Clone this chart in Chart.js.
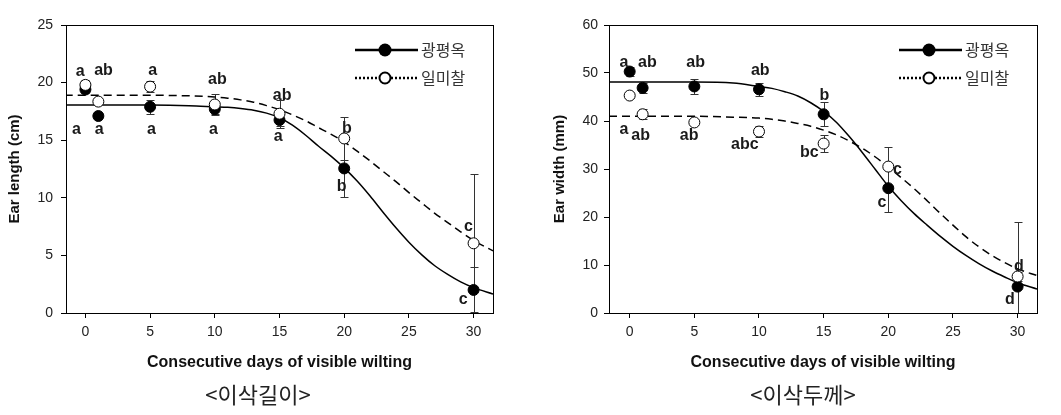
<!DOCTYPE html>
<html>
<head>
<meta charset="utf-8">
<script src="https://cdn.jsdelivr.net/npm/chart.js@4.4.0/dist/chart.umd.min.js"></script>
<style>
  body { margin: 0; background: #fff; width: 1061px; height: 415px; position: relative; overflow: hidden; }
  .panel { position: absolute; top: 0; }
  .caption { position: absolute; top: 379px; font-family: "Noto Sans CJK KR", sans-serif; font-size: 22px; line-height: 28px; color: #222; transform: translateX(-50%); white-space: nowrap; }
</style>
</head>
<body>
<div class="panel" style="left:0"><canvas id="lengthChart" width="530" height="415"></canvas></div>
<div class="panel" style="left:530px"><canvas id="widthChart" width="531" height="415"></canvas></div>
<div class="caption" style="left:258px">&lt;이삭길이&gt;</div>
<div class="caption" style="left:803px">&lt;이삭두께&gt;</div>

<script>
// measured days and the two varieties
const days = [0, 1, 5, 10, 15, 20, 30];
const seriesNames = ["광평옥", "일미찰"];
const xTicks = [0, 5, 10, 15, 20, 25, 30];

// ear length (cm)
const lengthKPO = [19.4, 17.1, 17.9, 17.7, 16.75, 12.55, 2.0];
const lengthKPOErr = [0.3, 0.3, 0.6, 0.45, 0.5, 2.45, 2.0];
const lengthIMC = [19.8, 18.35, 19.65, 18.1, 17.3, 15.15, 6.05];
const lengthIMCErr = [0.4, 0.2, 0.5, 0.95, 1.2, 1.85, 6.0];
const lengthTicks = [0, 5, 10, 15, 20, 25];

// ear width (mm)
const widthKPO = [50.3, 46.9, 47.2, 46.6, 41.4, 26.0, 5.5];
const widthKPOErr = [0.9, 1.1, 1.65, 1.35, 2.5, 4.9, 13.5];
const widthIMC = [45.3, 41.4, 39.7, 37.8, 35.3, 30.5, 7.6];
const widthIMCErr = [0.5, 1.0, 0.5, 1.2, 1.7, 4.0, 1.0];
const widthTicks = [0, 10, 20, 30, 40, 50, 60];

// fitted curves
const curveDays = [-1.6, 0, 5, 8, 10, 11, 12, 13, 14, 15, 16, 17, 18, 19, 20, 21, 22, 23, 24, 25, 26, 27, 28, 29, 30, 31.5];
const lengthKPOFit = [18.05, 18.05, 18.05, 18.0, 17.9, 17.85, 17.75, 17.6, 17.35, 16.95, 16.3, 15.45, 14.5, 13.6, 12.6, 11.45, 10.15, 8.75, 7.4, 6.15, 5.05, 4.1, 3.35, 2.7, 2.2, 1.65];
const lengthIMCFit = [18.9, 18.9, 18.9, 18.85, 18.75, 18.65, 18.5, 18.3, 18.0, 17.65, 17.2, 16.7, 16.1, 15.5, 14.85, 14.05, 13.2, 12.3, 11.4, 10.45, 9.55, 8.65, 7.85, 7.05, 6.3, 5.4];
const widthKPOFit = [48.1, 48.1, 48.1, 47.9, 47.2, 46.8, 46.1, 45.2, 43.8, 42.0, 39.7, 36.7, 33.4, 29.9, 26.4, 23.4, 20.7, 18.3, 16.0, 13.9, 12.0, 10.3, 8.8, 7.5, 6.3, 5.0];
const widthIMCFit = [41.0, 41.0, 41.0, 40.8, 40.6, 40.35, 40.0, 39.5, 38.9, 38.1, 37.1, 35.8, 34.3, 32.5, 30.4, 28.2, 25.9, 23.4, 20.8, 18.3, 15.9, 13.8, 12.0, 10.5, 9.2, 7.8];

// significance letters
const lengthLettersKPO = ["a", "a", "a", "a", "a", "b", "c"];
const lengthLettersIMC = ["a", "ab", "a", "ab", "ab", "b", "c"];
const widthLettersKPO = ["a", "ab", "ab", "ab", "b", "c", "d"];
const widthLettersIMC = ["a", "ab", "ab", "abc", "bc", "c", "d"];

// where each letter sits, in data units
const lengthLetterPosKPO = [[-0.7, 15.95], [1.06, 15.95], [5.1, 15.95], [9.9, 15.95], [14.9, 15.3], [19.8, 10.96], [29.2, 1.13]];
const lengthLetterPosIMC = [[-0.4, 20.98], [1.4, 21.0], [5.2, 21.0], [10.2, 20.3], [15.2, 18.9], [20.2, 16.0], [29.6, 7.5]];
const widthLetterPosKPO = [[-0.44, 52.1], [1.37, 52.1], [5.1, 52.1], [10.1, 50.4], [15.05, 45.3], [19.5, 23.0], [29.4, 2.7]];
const widthLetterPosIMC = [[-0.44, 38.3], [0.85, 36.9], [4.6, 36.9], [8.9, 35.0], [13.9, 33.4], [20.7, 29.9], [30.1, 9.6]];

const FONT = "'Liberation Sans', Arial, sans-serif";

function toPoints(xs, ys) {
    return xs.map((x, i) => ({ x: x, y: ys[i] }));
}

// error bars under the points
const errorBarPlugin = {
    id: "errorBars",
    beforeDatasetsDraw(chart) {
        const { ctx, chartArea, scales } = chart;
        ctx.save();
        ctx.beginPath();
        ctx.rect(chartArea.left, chartArea.top, chartArea.right - chartArea.left, chartArea.bottom - chartArea.top);
        ctx.clip();
        ctx.strokeStyle = "#333";
        ctx.lineWidth = 1;
        chart.data.datasets.forEach(ds => {
            if (!ds.errors) return;
            ds.data.forEach((p, i) => {
                const x = Math.round(scales.x.getPixelForValue(p.x)) + 0.5;
                const yHi = Math.round(scales.y.getPixelForValue(p.y + ds.errors[i])) + 0.5;
                const yLo = Math.round(scales.y.getPixelForValue(p.y - ds.errors[i])) + 0.5;
                ctx.beginPath();
                ctx.moveTo(x, yHi); ctx.lineTo(x, yLo);
                ctx.moveTo(x - 4, yHi); ctx.lineTo(x + 4, yHi);
                ctx.moveTo(x - 4, yLo); ctx.lineTo(x + 4, yLo);
                ctx.stroke();
            });
        });
        ctx.restore();
    }
};

// box round the plot area, letters and the legend
const decorPlugin = {
    id: "decor",
    afterDatasetsDraw(chart, args, opts) {
        const { ctx, chartArea, scales } = chart;
        ctx.save();
        ctx.strokeStyle = "#000";
        ctx.lineWidth = 1;
        ctx.strokeRect(chartArea.left + 0.5, chartArea.top + 0.5, chartArea.right - chartArea.left, chartArea.bottom - chartArea.top);

        ctx.fillStyle = "#1a1a1a";
        ctx.font = "bold 16px " + FONT;
        ctx.textAlign = "center";
        ctx.textBaseline = "middle";
        opts.letters.forEach(group => {
            group.text.forEach((t, i) => {
                const pos = group.pos[i];
                ctx.fillText(t, scales.x.getPixelForValue(pos[0]), scales.y.getPixelForValue(pos[1]));
            });
        });

        // legend
        const x0 = chartArea.right - 138, x1 = chartArea.right - 75;
        const rows = [chartArea.top + 25, chartArea.top + 53];
        ctx.lineWidth = 2.5;
        ctx.beginPath();
        ctx.moveTo(x0, rows[0]); ctx.lineTo(x1, rows[0]);
        ctx.stroke();
        ctx.setLineDash([2, 2]);
        ctx.beginPath();
        ctx.moveTo(x0, rows[1]); ctx.lineTo(x1, rows[1]);
        ctx.stroke();
        ctx.setLineDash([]);
        const mx = x0 + 30;
        ctx.fillStyle = "#000";
        ctx.beginPath(); ctx.arc(mx, rows[0], 6.5, 0, Math.PI * 2); ctx.fill();
        ctx.fillStyle = "#fff";
        ctx.lineWidth = 2;
        ctx.beginPath(); ctx.arc(mx, rows[1], 5.5, 0, Math.PI * 2); ctx.fill(); ctx.stroke();

        ctx.fillStyle = "#333";
        ctx.font = "16px 'Noto Sans CJK KR', sans-serif";
        ctx.textAlign = "left";
        seriesNames.forEach((name, i) => ctx.fillText(name, x1 + 3, rows[i]));
        ctx.restore();
    }
};

function renderPanel(canvasId, p) {
    new Chart(document.getElementById(canvasId), {
        type: "line",
        data: {
            datasets: [
                {
                    data: toPoints(days, p.imc), errors: p.imcErr, showLine: false,
                    pointRadius: 5.5, pointBackgroundColor: "#fff", pointBorderColor: "#000", pointBorderWidth: 1
                },
                {
                    data: toPoints(days, p.kpo), errors: p.kpoErr, showLine: false,
                    pointRadius: 5.5, pointBackgroundColor: "#000", pointBorderColor: "#000", pointBorderWidth: 1
                },
                {
                    data: toPoints(curveDays, p.kpoFit), borderColor: "#000", borderWidth: 1.5,
                    pointRadius: 0, cubicInterpolationMode: "monotone", fill: false
                },
                {
                    data: toPoints(curveDays, p.imcFit), borderColor: "#000", borderWidth: 1.5, borderDash: [8, 5],
                    pointRadius: 0, cubicInterpolationMode: "monotone", fill: false
                }
            ]
        },
        options: {
            responsive: false,
            animation: false,
            events: [],
            layout: { padding: { left: 0, top: 25, right: p.padRight, bottom: 42 } },
            plugins: {
                legend: { display: false },
                tooltip: { enabled: false },
                decor: { letters: p.letters }
            },
            scales: {
                x: {
                    type: "linear",
                    min: p.xMin,
                    max: 31.5,
                    afterBuildTicks: s => { s.ticks = xTicks.map(v => ({ value: v })); },
                    afterFit: s => { s.height = 60; },
                    grid: { drawOnChartArea: false, tickLength: 5, color: "#000" },
                    border: { color: "#000" },
                    ticks: { font: { family: FONT, size: 14 }, color: "#222", padding: 6, maxRotation: 0 },
                    title: {
                        display: true, text: "Consecutive days of visible wilting",
                        font: { family: FONT, size: 16, weight: "bold" }, color: "#111",
                        padding: { top: 0, bottom: 1 }
                    }
                },
                y: {
                    min: p.yTicks[0],
                    max: p.yTicks[p.yTicks.length - 1],
                    afterBuildTicks: s => { s.ticks = p.yTicks.map(v => ({ value: v })); },
                    afterFit: s => { s.width = p.yWidth; },
                    grid: { drawOnChartArea: false, tickLength: 5, color: "#000" },
                    border: { color: "#000" },
                    ticks: { font: { family: FONT, size: 14 }, color: "#222", padding: p.tickPad },
                    title: {
                        display: true, text: p.yTitle,
                        font: { family: FONT, size: 15, weight: "bold" }, color: "#111",
                        padding: { top: p.titlePad, bottom: 0 }
                    }
                }
            }
        },
        plugins: [errorBarPlugin, decorPlugin]
    });
}

renderPanel("lengthChart", {
    kpo: lengthKPO, kpoErr: lengthKPOErr, imc: lengthIMC, imcErr: lengthIMCErr,
    kpoFit: lengthKPOFit, imcFit: lengthIMCFit, yTicks: lengthTicks,
    yTitle: "Ear length (cm)", xMin: -1.5, yWidth: 66, padRight: 37, tickPad: 8, titlePad: 6,
    letters: [
        { text: lengthLettersKPO, pos: lengthLetterPosKPO },
        { text: lengthLettersIMC, pos: lengthLetterPosIMC }
    ]
});

renderPanel("widthChart", {
    kpo: widthKPO, kpoErr: widthKPOErr, imc: widthIMC, imcErr: widthIMCErr,
    kpoFit: widthKPOFit, imcFit: widthIMCFit, yTicks: widthTicks,
    yTitle: "Ear width (mm)", xMin: -1.6, yWidth: 79, padRight: 24, tickPad: 6, titlePad: 21,
    letters: [
        { text: widthLettersKPO, pos: widthLetterPosKPO },
        { text: widthLettersIMC, pos: widthLetterPosIMC }
    ]
});
</script>
</body>
</html>
